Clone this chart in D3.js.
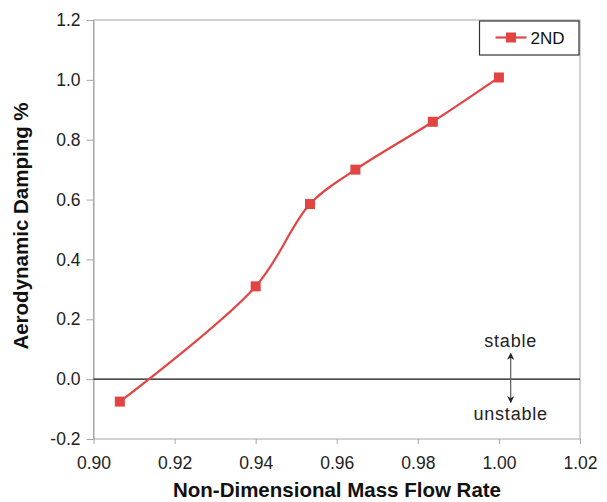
<!DOCTYPE html>
<html>
<head>
<meta charset="utf-8">
<script src="https://cdn.jsdelivr.net/npm/d3@7"></script>
<style>
  body { margin: 0; background: #fff; }
  text { font-family: "Liberation Sans", Arial, sans-serif; }
</style>
</head>
<body>
<svg id="drawing_region"></svg>
<script>
// data
const flowRate = [0.9065, 0.940, 0.9534, 0.9646, 0.9837, 1.000];
const damping  = [-0.075, 0.310, 0.585, 0.700, 0.860, 1.008];
const seriesName = "2ND";
const xTicks = [0.90, 0.92, 0.94, 0.96, 0.98, 1.00, 1.02];
const yTicks = [-0.2, 0.0, 0.2, 0.4, 0.6, 0.8, 1.0, 1.2];

const config = {
    width: 607,
    height: 502,
    margin: {top: 20, right: 27, bottom: 63, left: 93.5}
};
const red = "#e24444";
const gray = "#a6a6a6";

const svg = d3.select("#drawing_region")
    .attr("width", config.width)
    .attr("height", config.height);

const inner_width = config.width - config.margin.left - config.margin.right;
const inner_height = config.height - config.margin.top - config.margin.bottom;

const chart = svg.append("g")
    .attr("transform", `translate(${config.margin.left}, ${config.margin.top})`);

const xscale = d3.scaleLinear().domain([0.90, 1.02]).range([0, inner_width]);
const yscale = d3.scaleLinear().domain([-0.2, 1.2]).range([inner_height, 0]);

// plot frame
chart.append("rect")
    .attr("x", 0).attr("y", 0)
    .attr("width", inner_width).attr("height", inner_height)
    .attr("fill", "none").attr("stroke", gray).attr("stroke-width", 1);

const hyphen = f => d => f(d).replace("\u2212", "-");

const xaxis = d3.axisBottom(xscale)
    .tickValues(xTicks)
    .tickFormat(hyphen(d3.format(".2f")))
    .tickSize(5).tickSizeOuter(0).tickPadding(12.6);
const yaxis = d3.axisLeft(yscale)
    .tickValues(yTicks)
    .tickFormat(hyphen(d3.format(".1f")))
    .tickSize(7).tickSizeOuter(0).tickPadding(6);

const xg = chart.append("g")
    .attr("transform", `translate(0, ${inner_height})`)
    .call(xaxis);
const yg = chart.append("g").call(yaxis);

[xg, yg].forEach(g => {
    g.select(".domain").attr("stroke", gray);
    g.selectAll(".tick line").attr("stroke", gray);
    g.selectAll(".tick text")
        .attr("fill", "#222")
        .style("font-size", "17.5px")
        .style("font-family", "Liberation Sans, Arial, sans-serif");
});
xg.select(".domain").remove();

// zero line
chart.append("line")
    .attr("x1", 0).attr("x2", inner_width)
    .attr("y1", yscale(0)).attr("y2", yscale(0))
    .attr("stroke", "#111").attr("stroke-width", 1.2);

// series
const points = flowRate.map((x, i) => ({x: x, y: damping[i]}));
const line = d3.line()
    .x(d => xscale(d.x))
    .y(d => yscale(d.y))
    .curve(d3.curveCatmullRom.alpha(0.5));

chart.append("path")
    .datum(points)
    .attr("d", line)
    .attr("fill", "none")
    .attr("stroke", red)
    .attr("stroke-width", 2.2);

const ms = 10;
chart.selectAll("rect.marker")
    .data(points)
    .enter()
    .append("rect")
    .attr("class", "marker")
    .attr("x", d => xscale(d.x) - ms / 2)
    .attr("y", d => yscale(d.y) - ms / 2)
    .attr("width", ms).attr("height", ms)
    .attr("fill", red);

// stable / unstable annotation
const ax = xscale(1.0029);
svg.append("defs").append("marker")
    .attr("id", "arrow")
    .attr("viewBox", "0 0 10 10")
    .attr("refX", 9).attr("refY", 5)
    .attr("markerWidth", 5.5).attr("markerHeight", 5.5)
    .attr("orient", "auto-start-reverse")
    .append("path")
    .attr("d", "M0,0 L10,5 L0,10 L3,5 Z")
    .attr("fill", "#222");

chart.append("line")
    .attr("x1", ax).attr("x2", ax)
    .attr("y1", yscale(0.086)).attr("y2", yscale(-0.078))
    .attr("stroke", "#666").attr("stroke-width", 1.3)
    .attr("marker-start", "url(#arrow)")
    .attr("marker-end", "url(#arrow)");

chart.append("text")
    .attr("x", ax).attr("y", yscale(0.107))
    .attr("text-anchor", "middle")
    .style("font-size", "18px")
    .style("letter-spacing", "0.8px")
    .attr("fill", "#222")
    .text("stable");
chart.append("text")
    .attr("x", ax).attr("y", yscale(-0.137))
    .attr("text-anchor", "middle")
    .style("font-size", "18px")
    .style("letter-spacing", "0.8px")
    .attr("fill", "#222")
    .text("unstable");

// legend
const legend = svg.append("g").attr("transform", "translate(479.5, 21)");
legend.append("rect")
    .attr("width", 99.5).attr("height", 34)
    .attr("fill", "#fff").attr("stroke", "#333").attr("stroke-width", 1.2);
legend.append("line")
    .attr("x1", 16).attr("x2", 47).attr("y1", 16.5).attr("y2", 16.5)
    .attr("stroke", red).attr("stroke-width", 2.2);
legend.append("rect")
    .attr("x", 31.5 - ms / 2).attr("y", 16.5 - ms / 2)
    .attr("width", ms).attr("height", ms)
    .attr("fill", red);
legend.append("text")
    .attr("x", 51).attr("y", 23)
    .style("font-size", "17px")
    .attr("fill", "#111")
    .text(seriesName);

// axis titles
svg.append("text")
    .attr("x", 337)
    .attr("y", 497)
    .attr("text-anchor", "middle")
    .style("font-size", "20.5px")
    .style("font-weight", "bold")
    .attr("fill", "#111")
    .text("Non-Dimensional Mass Flow Rate");

svg.append("text")
    .attr("transform", "translate(28, 226) rotate(-90)")
    .attr("text-anchor", "middle")
    .style("font-size", "20.5px")
    .style("font-weight", "bold")
    .attr("fill", "#111")
    .text("Aerodynamic Damping %");
</script>
</body>
</html>
